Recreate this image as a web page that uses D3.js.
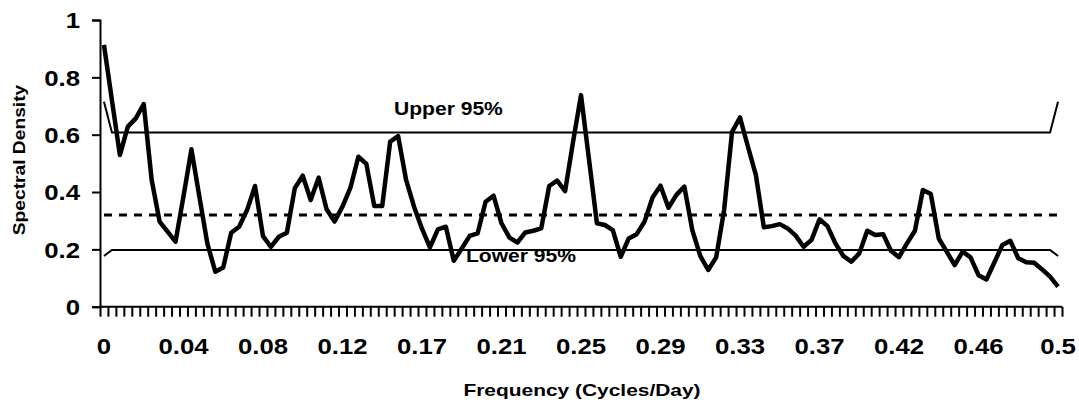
<!DOCTYPE html>
<html>
<head>
<meta charset="utf-8">
<script src="https://cdn.jsdelivr.net/npm/d3@7"></script>
<style>
  html, body { margin: 0; padding: 0; background: #fff; }
  svg { display: block; }
  text { font-family: "Liberation Sans", Arial, sans-serif; font-weight: bold; fill: #000; }
</style>
</head>
<body>
<svg id="chart" width="1079" height="406"></svg>
<script>
// ---- data ----
const categories = d3.range(121); // frequency index k (frequency = k/240 cycles/day)
const tickLabels = ["0","0.04","0.08","0.12","0.17","0.21","0.25","0.29","0.33","0.37","0.42","0.46","0.5"];
const tickLabelCategories = [0,10,20,30,40,50,60,70,80,90,100,110,120];
const yTicks = [0, 0.2, 0.4, 0.6, 0.8, 1];

const spectralDensity = [
  0.913,0.720,0.529,0.628,0.657,0.707,0.442,0.297,0.262,0.227,
  0.385,0.549,0.384,0.221,0.122,0.137,0.258,0.279,0.337,0.421,
  0.246,0.209,0.244,0.258,0.413,0.457,0.372,0.450,0.340,0.297,
  0.349,0.415,0.523,0.498,0.351,0.351,0.576,0.595,0.442,0.349,
  0.272,0.207,0.270,0.279,0.160,0.203,0.247,0.256,0.366,0.387,
  0.291,0.241,0.224,0.259,0.265,0.273,0.421,0.440,0.403,0.575,
  0.738,0.515,0.291,0.285,0.267,0.174,0.238,0.253,0.297,0.381,
  0.422,0.345,0.390,0.419,0.267,0.177,0.128,0.172,0.337,0.610,
  0.660,0.558,0.459,0.277,0.281,0.288,0.273,0.248,0.209,0.233,
  0.305,0.281,0.221,0.177,0.157,0.186,0.265,0.250,0.253,0.194,
  0.173,0.221,0.265,0.407,0.393,0.238,0.192,0.145,0.192,0.172,
  0.110,0.095,0.155,0.215,0.230,0.169,0.155,0.153,0.130,0.105,
  0.070
];

const upper95 = [
  0.715,0.608,0.608,0.608,0.608,0.608,0.608,0.608,0.608,0.608,
  0.608,0.608,0.608,0.608,0.608,0.608,0.608,0.608,0.608,0.608,
  0.608,0.608,0.608,0.608,0.608,0.608,0.608,0.608,0.608,0.608,
  0.608,0.608,0.608,0.608,0.608,0.608,0.608,0.608,0.608,0.608,
  0.608,0.608,0.608,0.608,0.608,0.608,0.608,0.608,0.608,0.608,
  0.608,0.608,0.608,0.608,0.608,0.608,0.608,0.608,0.608,0.608,
  0.608,0.608,0.608,0.608,0.608,0.608,0.608,0.608,0.608,0.608,
  0.608,0.608,0.608,0.608,0.608,0.608,0.608,0.608,0.608,0.608,
  0.608,0.608,0.608,0.608,0.608,0.608,0.608,0.608,0.608,0.608,
  0.608,0.608,0.608,0.608,0.608,0.608,0.608,0.608,0.608,0.608,
  0.608,0.608,0.608,0.608,0.608,0.608,0.608,0.608,0.608,0.608,
  0.608,0.608,0.608,0.608,0.608,0.608,0.608,0.608,0.608,0.608,
  0.715
];

const lower95 = [
  0.177,0.198,0.198,0.198,0.198,0.198,0.198,0.198,0.198,0.198,
  0.198,0.198,0.198,0.198,0.198,0.198,0.198,0.198,0.198,0.198,
  0.198,0.198,0.198,0.198,0.198,0.198,0.198,0.198,0.198,0.198,
  0.198,0.198,0.198,0.198,0.198,0.198,0.198,0.198,0.198,0.198,
  0.198,0.198,0.198,0.198,0.198,0.198,0.198,0.198,0.198,0.198,
  0.198,0.198,0.198,0.198,0.198,0.198,0.198,0.198,0.198,0.198,
  0.198,0.198,0.198,0.198,0.198,0.198,0.198,0.198,0.198,0.198,
  0.198,0.198,0.198,0.198,0.198,0.198,0.198,0.198,0.198,0.198,
  0.198,0.198,0.198,0.198,0.198,0.198,0.198,0.198,0.198,0.198,
  0.198,0.198,0.198,0.198,0.198,0.198,0.198,0.198,0.198,0.198,
  0.198,0.198,0.198,0.198,0.198,0.198,0.198,0.198,0.198,0.198,
  0.198,0.198,0.198,0.198,0.198,0.198,0.198,0.198,0.198,0.198,
  0.177
];

const meanLevel = [
  0.32,0.32,0.32,0.32,0.32,0.32,0.32,0.32,0.32,0.32,
  0.32,0.32,0.32,0.32,0.32,0.32,0.32,0.32,0.32,0.32,
  0.32,0.32,0.32,0.32,0.32,0.32,0.32,0.32,0.32,0.32,
  0.32,0.32,0.32,0.32,0.32,0.32,0.32,0.32,0.32,0.32,
  0.32,0.32,0.32,0.32,0.32,0.32,0.32,0.32,0.32,0.32,
  0.32,0.32,0.32,0.32,0.32,0.32,0.32,0.32,0.32,0.32,
  0.32,0.32,0.32,0.32,0.32,0.32,0.32,0.32,0.32,0.32,
  0.32,0.32,0.32,0.32,0.32,0.32,0.32,0.32,0.32,0.32,
  0.32,0.32,0.32,0.32,0.32,0.32,0.32,0.32,0.32,0.32,
  0.32,0.32,0.32,0.32,0.32,0.32,0.32,0.32,0.32,0.32,
  0.32,0.32,0.32,0.32,0.32,0.32,0.32,0.32,0.32,0.32,
  0.32,0.32,0.32,0.32,0.32,0.32,0.32,0.32,0.32,0.32,
  0.32
];

// ---- layout ----
const plotLeft = 100, plotRight = 1062, plotTop = 20, plotBottom = 306.7;

const svg = d3.select("#chart");

const x = d3.scaleBand().domain(categories).range([plotLeft, plotRight]).padding(0);
const xEdge = d3.scaleLinear().domain([0, categories.length]).range([plotLeft, plotRight]);
const y = d3.scaleLinear().domain([0, 1]).range([plotBottom, plotTop]);
const cx = k => x(k) + x.bandwidth() / 2;

function stretch(factor) {
  return sel => sel.each(function() {
    const len = this.getComputedTextLength();
    d3.select(this).attr("textLength", len * factor).attr("lengthAdjust", "spacingAndGlyphs");
  });
}

// Y axis
const yAxis = svg.append("g")
  .attr("transform", `translate(${plotLeft},0)`)
  .call(d3.axisLeft(y).tickValues(yTicks).tickSize(8).tickPadding(12).tickFormat(d3.format("~g")));
yAxis.select(".domain").attr("stroke", "#000").attr("stroke-width", 2);
yAxis.selectAll(".tick line").attr("stroke", "#000").attr("stroke-width", 2);
yAxis.selectAll(".tick text")
  .style("font-size", "22px").style("font-family", "'Liberation Sans', Arial, sans-serif")
  .style("font-weight", "bold").attr("fill", "#000").attr("dy", "0.36em")
  .call(stretch(1.17));

// X axis: tick marks at category boundaries
const xTicks = svg.append("g")
  .attr("transform", `translate(0,${plotBottom})`)
  .call(d3.axisBottom(xEdge).tickValues(d3.range(categories.length + 1)).tickSize(10).tickFormat(""));
xTicks.select(".domain").attr("stroke", "#000").attr("stroke-width", 2).attr("d", `M${plotLeft},0H${plotRight}`);
xTicks.selectAll(".tick line").attr("stroke", "#000").attr("stroke-width", 2);

// X axis: labels centred under categories
const xLabels = svg.append("g")
  .attr("transform", `translate(0,${plotBottom})`)
  .call(d3.axisBottom(x).tickValues(tickLabelCategories).tickSize(0).tickPadding(32)
    .tickFormat((d) => tickLabels[tickLabelCategories.indexOf(d)]));
xLabels.select(".domain").remove();
xLabels.selectAll(".tick text")
  .style("font-size", "22px").style("font-family", "'Liberation Sans', Arial, sans-serif")
  .style("font-weight", "bold").attr("fill", "#000")
  .call(stretch(1.17));

// Series
const line = d3.line().x((d, i) => cx(categories[i])).y(d => y(d));

svg.append("path").datum(upper95).attr("d", line)
  .attr("fill", "none").attr("stroke", "#000").attr("stroke-width", 2);
svg.append("path").datum(lower95).attr("d", line)
  .attr("fill", "none").attr("stroke", "#000").attr("stroke-width", 2);
svg.append("path").datum(meanLevel).attr("d", line)
  .attr("fill", "none").attr("stroke", "#000").attr("stroke-width", 3)
  .attr("stroke-dasharray", "8,7");
svg.append("path").datum(spectralDensity).attr("d", line)
  .attr("fill", "none").attr("stroke", "#000").attr("stroke-width", 4.5)
  .attr("stroke-linejoin", "round");

// Annotations
svg.append("text").attr("x", 394).attr("y", 115).style("font-size", "18px")
  .text("Upper 95%").call(stretch(1.17));
svg.append("text").attr("x", 466).attr("y", 262).style("font-size", "18px")
  .text("Lower 95%").call(stretch(1.17));

// Axis titles
svg.append("text").attr("x", 582).attr("y", 396).attr("text-anchor", "middle")
  .style("font-size", "17px").text("Frequency (Cycles/Day)").call(stretch(1.23));
svg.append("text").attr("transform", "translate(25,160) rotate(-90)").attr("text-anchor", "middle")
  .style("font-size", "16px").text("Spectral Density").call(stretch(1.2));
</script>
</body>
</html>
